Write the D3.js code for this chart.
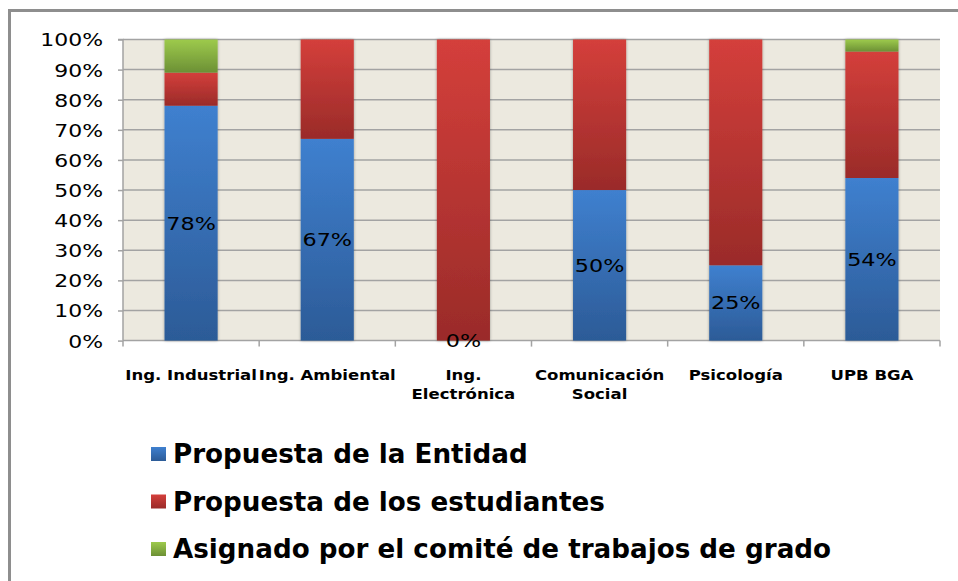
<!DOCTYPE html>
<html><head><meta charset="utf-8">
<script src="https://cdn.jsdelivr.net/npm/d3@7"></script>
<style>
html,body{margin:0;padding:0;background:#fff;}
svg{display:block;}
</style></head>
<body>
<svg id="c" width="958" height="581"></svg>
<script>
const categories = [["Ing. Industrial"],["Ing. Ambiental"],["Ing.","Electrónica"],["Comunicación","Social"],["Psicología"],["UPB BGA"]];
const entidad = [0.78, 0.67, 0.00, 0.50, 0.25, 0.54];
const estudiantes = [0.11, 0.33, 1.00, 0.50, 0.75, 0.42];
const comite = [0.11, 0.00, 0.00, 0.00, 0.00, 0.04];
const seriesNames = ["Propuesta de la Entidad","Propuesta de los estudiantes","Asignado por el comité de trabajos de grado"];
const yTicks = [0,0.1,0.2,0.3,0.4,0.5,0.6,0.7,0.8,0.9,1.0];

(function(){
const svg = d3.select("#c");
const pL=123,pR=940,pT=39.5,pB=340.6;

// frame
svg.append("path").attr("d",`M9.5,581 L9.5,10.5 L958,10.5`).attr("fill","none").attr("stroke","#8e8e8e").attr("stroke-width",3);

const defs = svg.append("defs");
const cols = [["#3f80cf","#2c5b97"],["#d43f3b","#9a2b29"],["#9dca4c","#6c9035"]];
cols.forEach((c,i)=>{
  const g=defs.append("linearGradient").attr("id","g"+i).attr("x1",0).attr("y1",0).attr("x2",0).attr("y2",1);
  g.append("stop").attr("offset","0%").attr("stop-color",c[0]);
  g.append("stop").attr("offset","100%").attr("stop-color",c[1]);
});
const sh=defs.append("filter").attr("id","sh").attr("x","-20%").attr("width","140%");
sh.append("feGaussianBlur").attr("in","SourceAlpha").attr("stdDeviation",1.5);
sh.append("feOffset").attr("dx",0).attr("dy",0).attr("result","b");
sh.append("feComponentTransfer").append("feFuncA").attr("type","linear").attr("slope",0.35);
const m=sh.append("feMerge"); m.append("feMergeNode"); m.append("feMergeNode").attr("in","SourceGraphic");

const x = d3.scaleBand().domain(d3.range(categories.length)).range([pL,pR]).paddingInner(0.61).paddingOuter(0.305);
const y = d3.scaleLinear().domain([0,1]).range([pB,pT]);

svg.append("rect").attr("x",pL).attr("y",pT).attr("width",pR-pL).attr("height",pB-pT).attr("fill","#ece9df");

// gridlines
svg.append("g").selectAll("line").data(yTicks.slice(1)).join("line")
  .attr("x1",pL).attr("x2",pR).attr("y1",d=>y(d)).attr("y2",d=>y(d))
  .attr("stroke","#a3a3a3").attr("stroke-width",1.5);

// y axis
const yAxis = svg.append("g").attr("transform",`translate(${pL},0)`)
  .call(d3.axisLeft(y).tickValues(yTicks).tickSize(5).tickPadding(16).tickFormat(d=>Math.round(d*100)+"%"));
yAxis.select(".domain").attr("stroke","#a3a3a3").attr("stroke-width",1.5).attr("d",`M-5,${pT}H0V${pB}`);
yAxis.selectAll(".tick line").attr("stroke","#a3a3a3").attr("stroke-width",1.5);
yAxis.selectAll(".tick text").attr("font-family","DejaVu Sans, Verdana, sans-serif").attr("font-size",18).attr("fill","#000")
  .attr("dy","0.36em").attr("transform","scale(1.22,1)").attr("x",-20/1.22);

// x axis baseline & ticks
const bounds = d3.range(categories.length+1).map(i=> pL + i*x.step());
svg.append("line").attr("x1",pL).attr("x2",pR).attr("y1",pB).attr("y2",pB).attr("stroke","#a3a3a3").attr("stroke-width",1.5);
svg.append("g").selectAll("line").data(bounds).join("line")
  .attr("x1",d=>d).attr("x2",d=>d).attr("y1",pB).attr("y2",pB+6).attr("stroke","#a3a3a3").attr("stroke-width",1.5);

// stacks
const data = categories.map((c,i)=>({i, v:[entidad[i],estudiantes[i],comite[i]]}));
const gb = svg.append("g");
data.forEach(d=>{
  let acc=0;
  const g = gb.append("g").attr("filter","url(#sh)");
  d.v.forEach((v,s)=>{
    if(v>0){
      g.append("rect").attr("x",x(d.i)).attr("width",x.bandwidth())
        .attr("y",y(acc+v)).attr("height",y(acc)-y(acc+v)).attr("fill",`url(#g${s})`);
    }
    acc+=v;
  });
});

// labels (entidad)
svg.append("g").selectAll("text").data(data).join("text")
  .attr("transform",d=>`translate(${x(d.i)+x.bandwidth()/2},${(y(0)+y(d.v[0]))/2}) scale(1.24,1)`)
  .attr("text-anchor","middle").attr("dy","0.36em")
  .attr("font-family","DejaVu Sans, Verdana, sans-serif").attr("font-size",18).attr("fill","#000")
  .text(d=>Math.round(d.v[0]*100)+"%");

// category labels
const cl = svg.append("g").selectAll("text").data(categories).join("text")
  .attr("transform",(d,i)=>`translate(${x(i)+x.bandwidth()/2},380) scale(1.14,1)`)
  .attr("text-anchor","middle").attr("font-family","DejaVu Sans, Verdana, sans-serif")
  .attr("font-size",14.5).attr("font-weight",600).attr("fill","#000");
cl.each(function(d){
  const t=d3.select(this);
  d.forEach((line,k)=>t.append("tspan").attr("x",0).attr("dy",k?19:0).text(line));
});

// legend
const lg = svg.append("g").selectAll("g").data(seriesNames).join("g")
  .attr("transform",(d,i)=>`translate(151,${454+i*47.5})`);
lg.append("rect").attr("x",0).attr("y",-7).attr("width",15).attr("height",14).attr("fill",(d,i)=>`url(#g${i})`);
lg.append("text").attr("x",22).attr("dy","0.36em").attr("font-family","DejaVu Sans, Verdana, sans-serif")
  .attr("font-size",26.2).attr("font-weight","bold").attr("fill","#000").text(d=>d);
})();
</script>
</body></html>
